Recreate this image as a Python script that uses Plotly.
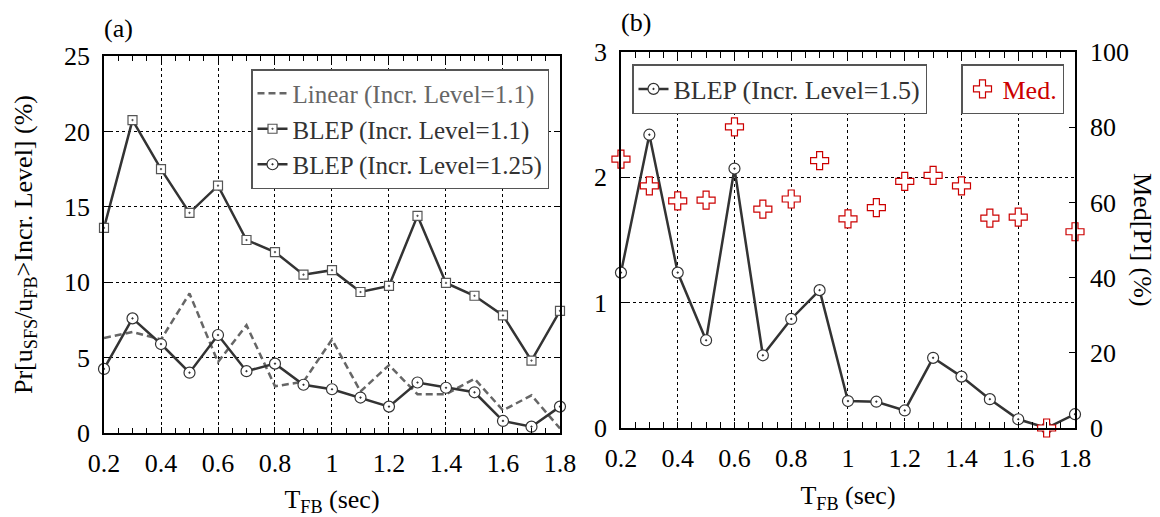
import plotly.graph_objects as go

T = [0.2, 0.3, 0.4, 0.5, 0.6, 0.7, 0.8, 0.9, 1.0, 1.1, 1.2, 1.3, 1.4, 1.5, 1.6, 1.7, 1.8]

linear_11 = [6.3, 6.7, 6.2, 9.25, 4.7, 7.15, 3.1, 3.4, 6.2, 2.75, 4.5, 2.57, 2.57, 3.6, 1.5, 2.5, 0.3]
blep_11 = [13.6, 20.75, 17.5, 14.6, 16.4, 12.8, 12.0, 10.5, 10.8, 9.35, 9.75, 14.4, 9.95, 9.1, 7.8, 4.8, 8.1]
blep_125 = [4.25, 7.6, 5.9, 4.0, 6.5, 4.1, 4.6, 3.2, 2.9, 2.35, 1.75, 3.35, 3.0, 2.7, 0.8, 0.42, 1.75]

blep_15 = [1.24, 2.34, 1.24, 0.70, 2.07, 0.58, 0.87, 1.10, 0.215, 0.21, 0.14, 0.56, 0.41, 0.23, 0.07, 0.0, 0.11]
med_pi = [71.5, 64.4, 60.4, 60.6, 80.1, 58.2, 60.9, 71.1, 55.6, 58.6, 65.6, 67.2, 64.4, 55.8, 56.1, 0.0, 52.2]

x_tickvals = [0.2, 0.4, 0.6, 0.8, 1.0, 1.2, 1.4, 1.6, 1.8]
x_ticktext = ["0.2", "0.4", "0.6", "0.8", "1", "1.2", "1.4", "1.6", "1.8"]

FONT = "Liberation Serif"
DARK = "#333333"
GRAY = "#666666"
RED = "#cc0000"


def f(size=26, color="black"):
    return dict(family=FONT, size=size, color=color)


fig = go.Figure()

fig.add_trace(go.Scatter(
    x=T, y=linear_11, mode="lines",
    name="<span style='color:#666666'>Linear (Incr. Level=1.1)</span>",
    line=dict(color=GRAY, width=2.5, dash="7px,4px"),
    xaxis="x", yaxis="y", legend="legend", cliponaxis=False))
fig.add_trace(go.Scatter(
    x=T, y=blep_11, mode="lines+markers", name="BLEP (Incr. Level=1.1)",
    line=dict(color=DARK, width=2.5),
    marker=dict(symbol="square-dot", size=9, color="white", line=dict(color="#555555", width=1.2)),
    xaxis="x", yaxis="y", legend="legend", cliponaxis=False))
fig.add_trace(go.Scatter(
    x=T, y=blep_125, mode="lines+markers", name="BLEP (Incr. Level=1.25)",
    line=dict(color=DARK, width=2.5),
    marker=dict(symbol="circle-dot", size=11, color="white", line=dict(color=DARK, width=1.2)),
    xaxis="x", yaxis="y", legend="legend", cliponaxis=False))

fig.add_trace(go.Scatter(
    x=T, y=blep_15, mode="lines+markers", name="BLEP (Incr. Level=1.5)",
    line=dict(color=DARK, width=2.5),
    marker=dict(symbol="circle-dot", size=11, color="white", line=dict(color=DARK, width=1.2)),
    xaxis="x2", yaxis="y2", legend="legend2", cliponaxis=False))
fig.add_trace(go.Scatter(
    x=T, y=med_pi, mode="markers", name="Med.",
    marker=dict(symbol="cross", size=15, color="white", line=dict(color=RED, width=1.2)),
    xaxis="x2", yaxis="y3", legend="legend3", cliponaxis=False))

W, H = 1160, 517
ml, mr, mt, mb = 104, 85, 52, 84
pw, ph = W - ml - mr, H - mt - mb


def px_x(x):
    return (x - ml) / pw


def px_y(y):
    return (H - mb - y) / ph


def axis_common():
    return dict(showline=True, linecolor="black", linewidth=1.5, ticks="inside",
                tickcolor="black", ticklen=6, zeroline=False, tickfont=f())


def grid():
    return dict(showgrid=True, gridcolor="black", gridwidth=1, griddash="3px,3px")


def xaxis_common():
    d = axis_common()
    d.update(grid())
    d.update(range=[0.2, 1.8], tickvals=x_tickvals, ticktext=x_ticktext,
             mirror="allticks", ticklabelstandoff=6,
             minor=dict(dtick=0.05, tick0=0.2, ticks="inside", ticklen=5,
                        tickcolor="black", showgrid=False),
             title=dict(text="T<sub>FB</sub> (sec)", standoff=14, font=f()))
    return d


xa1 = xaxis_common()
xa1.update(domain=[0, 0.4696], anchor="y")
xa2 = xaxis_common()
xa2.update(domain=[0.5324, 1], anchor="y2")

ya1 = axis_common()
ya1.update(grid())
ya1.update(domain=[0, 0.9895], anchor="x", range=[0, 25], dtick=5, mirror="allticks",
           ticklabelstandoff=7,
           title=dict(text="Pr[u<sub>SFS</sub>/u<sub>FB</sub>&gt;Incr. Level] (%)",
                      standoff=24, font=f()))
ya2 = axis_common()
ya2.update(grid())
ya2.update(domain=[0.0131, 1], anchor="x2", range=[0, 3], dtick=1, ticklabelstandoff=7)
ya3 = axis_common()
ya3.update(overlaying="y2", anchor="x2", side="right", range=[0, 100], dtick=20,
           showgrid=False, ticklabelstandoff=8)

fig.update_layout(
    template="none",
    width=W, height=H,
    margin=dict(l=ml, r=mr, t=mt, b=mb),
    paper_bgcolor="white", plot_bgcolor="white",
    font=f(),
    xaxis=xa1, yaxis=ya1, xaxis2=xa2, yaxis2=ya2, yaxis3=ya3,
    legend=dict(x=px_x(549), xanchor="right", y=px_y(69), yanchor="top",
                bgcolor="white", bordercolor="#555555", borderwidth=1.5,
                font=f(25, DARK), tracegroupgap=0),
    legend2=dict(x=px_x(632), xanchor="left", y=px_y(64), yanchor="top",
                 bgcolor="white", bordercolor="#555555", borderwidth=1.5,
                 font=f(26, DARK)),
    legend3=dict(x=px_x(1064), xanchor="right", y=px_y(64), yanchor="top",
                 bgcolor="white", bordercolor="#555555", borderwidth=1.5,
                 font=f(26, RED)),
    annotations=[
        dict(text="(a)", x=px_x(118), y=px_y(29), xref="paper", yref="paper",
             xanchor="center", yanchor="middle", showarrow=False, font=f()),
        dict(text="(b)", x=px_x(636), y=px_y(23), xref="paper", yref="paper",
             xanchor="center", yanchor="middle", showarrow=False, font=f()),
        dict(text="Med[PI] (%)", x=px_x(1143), y=px_y(240), xref="paper", yref="paper",
             xanchor="center", yanchor="middle", showarrow=False, textangle=90, font=f()),
    ],
)

fig.write_html("out.html")
